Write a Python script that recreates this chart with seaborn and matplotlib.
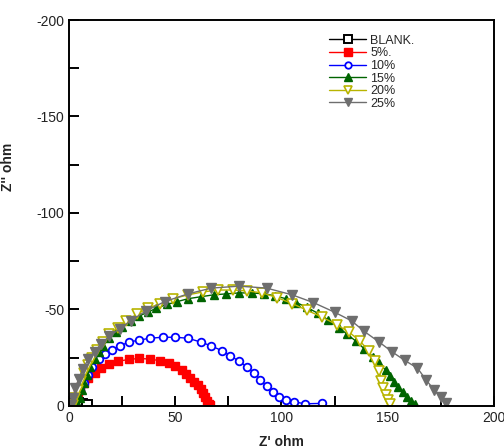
import matplotlib
matplotlib.use("Agg")
import matplotlib.pyplot as plt
import seaborn as sns
import pandas as pd
from matplotlib.ticker import MultipleLocator

# Nyquist data: Z' (ohm) and magnitude of -Z'' (ohm) per inhibitor concentration
blank_zr = [0.5, 2.0, 4.0, 6.0, 8.5]
blank_zi = [0.3, 0.8, 1.2, 0.8, 0.4]

c5_zr = [2, 3, 4, 5, 7, 9, 12, 15, 19, 23, 28, 33, 38, 43, 47, 50, 53, 55, 57,
         59, 60.5, 62, 63, 64, 65, 66, 66.5]
c5_zi = [1, 4, 7, 9.5, 12, 14.5, 17, 19.5, 21.5, 23, 24, 24.5, 24.2, 23.3, 22,
         20.5, 18.5, 16.5, 14.5, 12.5, 10.5, 8.5, 6.5, 4.5, 2.5, 1, 0.2]

c10_zr = [1, 2, 3, 5, 7, 9, 11, 14, 17, 20, 24, 28, 33, 38, 44, 50, 56, 62, 67,
          72, 76, 80, 84, 87, 90, 93, 96, 99, 102, 106, 111, 119]
c10_zi = [0.3, 1, 4, 8, 12, 16, 20, 24, 27, 29, 31, 33, 34, 35, 35.5, 35.5, 35,
          33, 31, 28.5, 26, 23, 20, 17, 13.5, 10, 7, 4.5, 3, 2, 1, 1.2]

c15_zr = [4, 5, 6, 7, 8.5, 10, 12, 14, 16, 19, 22, 25, 29, 33, 37, 41, 46, 51,
          56, 62, 68, 74, 80, 86, 92, 97, 102, 107, 112, 117, 122, 127, 131, 135,
          139, 143, 146, 149, 151, 153, 155, 157, 159, 161, 163]
c15_zi = [0.3, 4, 8, 12, 16, 20, 24, 28, 31, 35, 38, 41, 44, 46.5, 48.5, 50.5,
          52.5, 54, 55.5, 56.5, 57.5, 58, 58.5, 58.5, 58, 57, 55.5, 53.5, 51, 48,
          44.5, 40.5, 37, 33.5, 29.5, 25.5, 22, 18.5, 15.5, 12.5, 9.5, 7, 4.5,
          2.5, 1]

c20_zr = [2, 3, 4, 5.5, 7, 9, 11, 13, 16, 19, 23, 27, 32, 37, 43, 49, 56, 63,
          70, 77, 84, 91, 98, 105, 112, 119, 126, 132, 137, 141, 144, 146, 147,
          148, 149, 150, 151]
c20_zi = [0.3, 4, 8, 13, 17, 21, 25, 29, 33, 37, 40.5, 44, 47.5, 50.5, 53, 55.5,
          57.5, 59, 60, 60, 59.5, 58.5, 56, 53, 49.5, 46, 42, 38, 33.5, 28.5, 23,
          18, 13, 9, 5.5, 3, 1]

c25_zr = [1, 2, 3, 4.5, 6.5, 9, 12, 15, 19, 24, 29, 36, 45, 56, 67, 80, 93, 105,
          115, 125, 133, 139, 146, 152, 158, 164, 168, 172, 175, 177.5]
c25_zi = [0.3, 4, 9, 14, 19, 24, 28, 32, 36, 40, 44, 49, 54, 58, 61, 62, 61,
          57.5, 53.5, 48.5, 44, 38.5, 33, 28, 23.5, 19.5, 13.5, 8, 4.5, 1.5]

labels = ["BLANK.", "5%.", "10%", "15%", "20%", "25%"]
zr_sets = [blank_zr, c5_zr, c10_zr, c15_zr, c20_zr, c25_zr]
zi_sets = [blank_zi, c5_zi, c10_zi, c15_zi, c20_zi, c25_zi]

frames = []
for lab, zr, zi in zip(labels, zr_sets, zi_sets):
    frames.append(pd.DataFrame({"series": lab, "Zr": zr, "Zi": [-v for v in zi]}))
df = pd.concat(frames, ignore_index=True)

styles = {
    "BLANK.": dict(color="black", marker="s", mfc="white", mec="black", ms=6.5, mew=1.4),
    "5%.": dict(color="#ff0000", marker="s", mfc="#ff0000", mec="#ff0000", ms=6, mew=1),
    "10%": dict(color="#0000ff", marker="o", mfc="white", mec="#0000ff", ms=5.5, mew=1.3),
    "15%": dict(color="#006400", marker="^", mfc="#006400", mec="#006400", ms=6, mew=1),
    "20%": dict(color="#b8b400", marker="v", mfc="white", mec="#b8b400", ms=6.5, mew=1.2),
    "25%": dict(color="#6e6e6e", marker="v", mfc="#6e6e6e", mec="#6e6e6e", ms=7, mew=1),
}

sns.set_theme(style="ticks")
plt.rcParams["font.family"] = ["Liberation Sans", "DejaVu Sans"]
plt.rcParams["axes.unicode_minus"] = False

fig = plt.figure(figsize=(5.04, 4.48), dpi=100)
ax = fig.add_axes([0.137, 0.0944, 0.843, 0.8608])

for lab in labels:
    st = styles[lab]
    sub = df[df["series"] == lab]
    sns.lineplot(data=sub, x="Zr", y="Zi", sort=False, estimator=None, ax=ax,
                 color=st["color"], marker=st["marker"], markerfacecolor=st["mfc"],
                 markeredgecolor=st["mec"], markersize=st["ms"],
                 markeredgewidth=st["mew"], linewidth=1.0, label=lab)

ax.set_xlim(0, 200)
ax.set_ylim(0, -200)
ax.xaxis.set_major_locator(MultipleLocator(50))
ax.xaxis.set_minor_locator(MultipleLocator(25))
ax.yaxis.set_major_locator(MultipleLocator(50))
ax.yaxis.set_minor_locator(MultipleLocator(25))
ax.tick_params(which="both", direction="in", width=1.4, color="black",
               labelsize=10, labelcolor="#222222")
ax.tick_params(which="major", length=7)
ax.tick_params(which="minor", length=7)
for sp in ax.spines.values():
    sp.set_linewidth(1.4)
    sp.set_color("black")

ax.set_xlabel("Z' ohm", fontsize=10, fontweight="bold", color="#222222")
ax.set_ylabel("Z'' ohm", fontsize=10, fontweight="bold", color="#222222")
ax.xaxis.set_label_coords(0.5, -0.075)
ax.yaxis.set_label_coords(-0.127, 0.62)

leg = ax.legend(loc="upper left", bbox_to_anchor=(0.60, 0.975), frameon=False,
                fontsize=9, handlelength=3.0, handletextpad=0.3,
                labelspacing=0.05, borderaxespad=0, markerscale=0.85)

fig.savefig("out.png", dpi=100)
